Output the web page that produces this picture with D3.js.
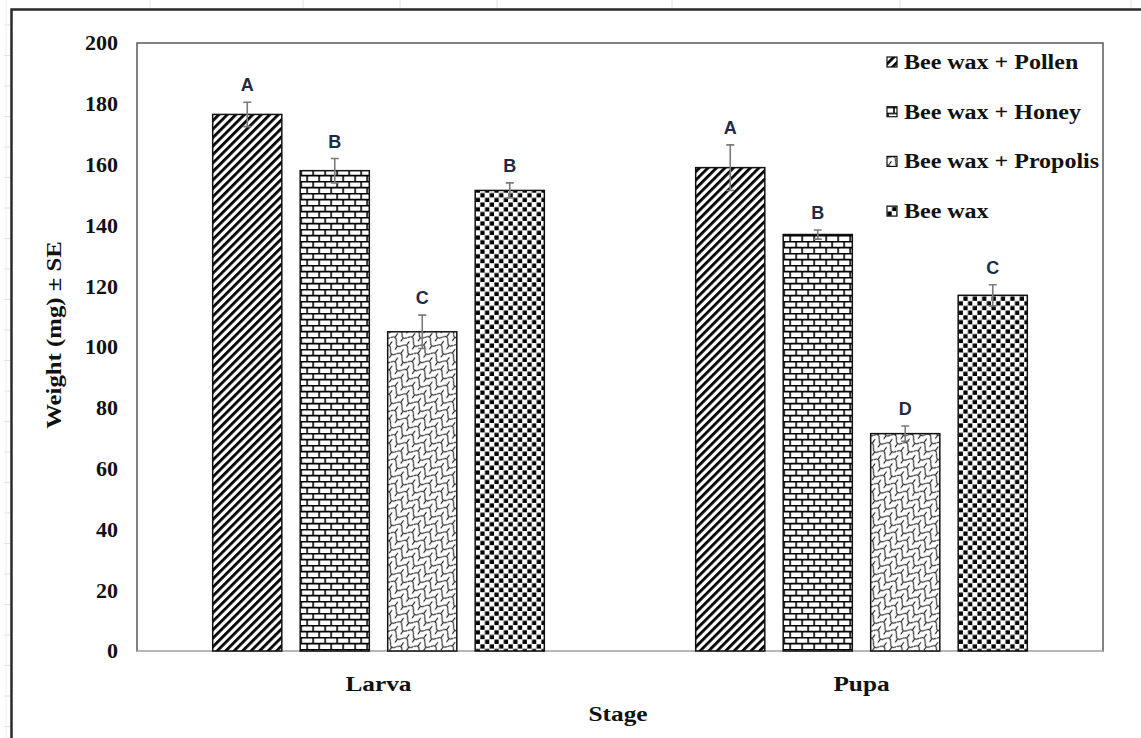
<!DOCTYPE html>
<html>
  <head>
    <meta charset="utf-8">
    <title>Weight by stage</title>
    <script src="https://cdn.jsdelivr.net/npm/d3@7"></script>
    <style>
      body { margin: 0; background: #fff; }
      svg { display: block; }
      .serif { font-family: "Liberation Serif", "Times New Roman", serif; font-weight: bold; fill: #111; }
      .letter { font-family: "Liberation Sans", Arial, sans-serif; font-weight: bold; fill: #1f2a44; }
    </style>
  </head>
  <body>
    <svg id="canvas" width="1141" height="738"></svg>
    <script>
      // data
      const stages = ["Larva", "Pupa"];
      const treatments = ["Bee wax + Pollen", "Bee wax + Honey", "Bee wax + Propolis", "Bee wax"];
      const larvaMean = [176.5, 158, 105, 151.5];
      const pupaMean = [159, 137, 71.5, 117];
      const larvaSE = [4, 4, 5.5, 2.5];
      const pupaSE = [7.5, 1.5, 2.5, 3.5];
      const larvaLetters = ["A", "B", "C", "B"];
      const pupaLetters = ["A", "B", "D", "C"];
      const yTicks = [0, 20, 40, 60, 80, 100, 120, 140, 160, 180, 200];
      const patternIds = ["pollen", "honey", "propolis", "wax"];

      const rows = [];
      stages.forEach(function(s, si) {
        const means = si == 0 ? larvaMean : pupaMean;
        const ses = si == 0 ? larvaSE : pupaSE;
        const lets = si == 0 ? larvaLetters : pupaLetters;
        treatments.forEach(function(t, ti) {
          rows.push({stage: s, treatment: t, mean: means[ti], se: ses[ti], letter: lets[ti], pat: patternIds[ti]});
        });
      });

      const svg = d3.select("#canvas");
      const plot = {left: 137, right: 1103, top: 43, bottom: 651};
      const stretch = 1.15; // the serif text in the picture is drawn a bit wide

      // spreadsheet background bits
      const bg = svg.append("g");
      [150, 303, 400, 497, 672, 900, 1131].forEach(function(x) {
        bg.append("line").attr("x1", x).attr("x2", x).attr("y1", 0).attr("y2", 8)
          .attr("stroke", "#e2e2e2").attr("stroke-width", 1);
      });
      d3.range(25, 738, 30.5).forEach(function(y) {
        bg.append("line").attr("x1", 4).attr("x2", 10).attr("y1", y).attr("y2", y)
          .attr("stroke", "#e2e2e2").attr("stroke-width", 1);
      });
      bg.append("line").attr("x1", 6).attr("x2", 6).attr("y1", 0).attr("y2", 738)
        .attr("stroke", "#eeeeee").attr("stroke-width", 1);
      bg.append("path")
        .attr("d", "M11.5,738 L11.5,9.5 L1141,9.5")
        .attr("fill", "none").attr("stroke", "#2a2a2a").attr("stroke-width", 2.5);

      // patterns
      const defs = svg.append("defs");
      const p1 = defs.append("pattern").attr("id", "pollen").attr("patternUnits", "userSpaceOnUse")
        .attr("width", 6).attr("height", 6).attr("patternTransform", "rotate(45)");
      p1.append("rect").attr("width", 6).attr("height", 6).attr("fill", "#fff");
      p1.append("rect").attr("width", 2.8).attr("height", 6).attr("fill", "#000");

      const p2 = defs.append("pattern").attr("id", "honey").attr("patternUnits", "userSpaceOnUse")
        .attr("width", 12).attr("height", 12).attr("x", 0).attr("y", 1);
      p2.append("rect").attr("width", 12).attr("height", 12).attr("fill", "#fff");
      p2.append("path")
        .attr("d", "M0,0.6H12M0,6.6H12M1,0V6.6M7,6.6V12")
        .attr("stroke", "#000").attr("stroke-width", 1.6).attr("fill", "none");

      const p3 = defs.append("pattern").attr("id", "propolis").attr("patternUnits", "userSpaceOnUse")
        .attr("width", 14).attr("height", 10).attr("patternTransform", "rotate(35)");
      p3.append("rect").attr("width", 14).attr("height", 10).attr("fill", "#fff");
      p3.append("path")
        .attr("d", "M0,5 C2.5,1 4.5,1 7,5 S11.5,9 14,5")
        .attr("stroke", "#222").attr("stroke-width", 1.2).attr("fill", "none");
      p3.append("path")
        .attr("d", "M3.5,2.2 L3.5,-2.8 M3.5,12.2 L3.5,7.2 M10.5,7.8 L10.5,12.2 M10.5,-2.2 L10.5,2.2")
        .attr("stroke", "#222").attr("stroke-width", 1.2).attr("fill", "none");

      const p4 = defs.append("pattern").attr("id", "wax").attr("patternUnits", "userSpaceOnUse")
        .attr("width", 9.4).attr("height", 9.4);
      p4.append("rect").attr("width", 9.4).attr("height", 9.4).attr("fill", "#fff");
      p4.append("rect").attr("x", 0.4).attr("y", 0.4).attr("width", 4.3).attr("height", 4.3).attr("fill", "#000");
      p4.append("rect").attr("x", 5.1).attr("y", 5.1).attr("width", 4.3).attr("height", 4.3).attr("fill", "#000");

      // scales
      const x0 = d3.scaleBand().domain(stages).range([plot.left, plot.right]);
      const x1 = d3.scaleBand().domain(treatments).range([0, x0.bandwidth()])
        .paddingInner(0.21).paddingOuter(0.865);
      const y = d3.scaleLinear().domain([0, 200]).range([plot.bottom, plot.top]);

      // plot frame
      svg.append("rect")
        .attr("x", plot.left).attr("y", plot.top)
        .attr("width", plot.right - plot.left).attr("height", plot.bottom - plot.top)
        .attr("fill", "#fff").attr("stroke", "#5a5a5a").attr("stroke-width", 1.5);
      svg.append("line")
        .attr("x1", plot.left).attr("x2", plot.right).attr("y1", y(0)).attr("y2", y(0))
        .attr("stroke", "#c8c8c8").attr("stroke-width", 1.5);

      // y axis
      const yAxis = svg.append("g")
        .attr("transform", "translate(" + plot.left + ",0)")
        .call(d3.axisLeft(y).tickValues(yTicks).tickSize(0).tickPadding(19));
      yAxis.select(".domain").remove();
      yAxis.selectAll("text").attr("class", "serif").attr("font-size", 20).attr("dy", "0.34em")
        .attr("x", -19 / 1.1).attr("transform", "scale(1.1,1)");

      // x axis labels
      const xAxis = svg.append("g")
        .attr("transform", "translate(0," + plot.bottom + ")")
        .call(d3.axisBottom(x0).tickSize(0).tickPadding(24));
      xAxis.select(".domain").remove();
      xAxis.selectAll("text").attr("class", "serif").attr("font-size", 22)
        .attr("transform", "scale(" + stretch + ",1)");

      // bars
      const bars = svg.append("g").selectAll("g")
        .data(rows).enter().append("g")
        .attr("transform", function(d) { return "translate(" + (x0(d.stage) + x1(d.treatment)) + ",0)"; });
      bars.append("rect")
        .attr("x", 0)
        .attr("y", function(d) { return y(d.mean); })
        .attr("width", x1.bandwidth())
        .attr("height", function(d) { return y(0) - y(d.mean); })
        .attr("fill", function(d) { return "url(#" + d.pat + ")"; })
        .attr("stroke", "#111").attr("stroke-width", 1.5);

      // error bars
      const bw = x1.bandwidth();
      bars.append("line")
        .attr("x1", bw / 2).attr("x2", bw / 2)
        .attr("y1", function(d) { return y(d.mean + d.se); })
        .attr("y2", function(d) { return y(d.mean - d.se); })
        .attr("stroke", "#7a7a7a").attr("stroke-width", 1.6);
      bars.append("path")
        .attr("d", function(d) {
          return "M" + (bw / 2 - 4) + "," + y(d.mean + d.se) + "H" + (bw / 2 + 4) +
            "M" + (bw / 2 - 4) + "," + y(d.mean - d.se) + "H" + (bw / 2 + 4);
        })
        .attr("stroke", "#7a7a7a").attr("stroke-width", 1.6);
      bars.append("text")
        .attr("class", "letter")
        .attr("x", bw / 2)
        .attr("y", function(d) { return y(d.mean + d.se) - 11; })
        .attr("text-anchor", "middle")
        .attr("font-size", 18)
        .text(function(d) { return d.letter; });

      // axis titles
      svg.append("text")
        .attr("class", "serif")
        .attr("transform", "translate(61,335) rotate(-90) scale(1.18,1)")
        .attr("text-anchor", "middle")
        .attr("font-size", 21)
        .text("Weight (mg) \u00b1 SE");
      svg.append("text")
        .attr("class", "serif")
        .attr("transform", "translate(618,721) scale(" + stretch + ",1)")
        .attr("text-anchor", "middle")
        .attr("font-size", 22)
        .text("Stage");

      // legend
      const legend = svg.append("g").selectAll("g")
        .data(treatments).enter().append("g")
        .attr("transform", function(d, i) { return "translate(887," + (62 + i * 49.7) + ")"; });
      legend.append("rect")
        .attr("x", 0).attr("y", -5).attr("width", 10).attr("height", 10)
        .attr("fill", function(d, i) { return "url(#" + patternIds[i] + ")"; })
        .attr("stroke", "#111").attr("stroke-width", 1.2);
      legend.append("text")
        .attr("class", "serif")
        .attr("transform", "translate(17,7) scale(1.2,1)")
        .attr("font-size", 20)
        .text(function(d) { return d; });
    </script>
  </body>
</html>
